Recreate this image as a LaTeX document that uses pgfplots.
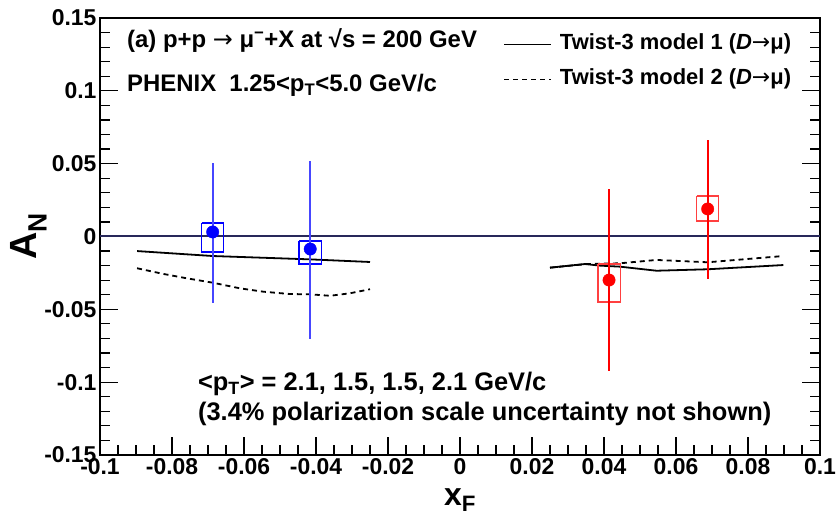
\documentclass[border=0pt]{standalone}
\usepackage{pgfplots}
\pgfplotsset{compat=1.18}
\usepackage{fontspec}
\setmainfont{Liberation Sans}
\newfontfamily\symfont{DejaVu Sans}
\newcommand{\arr}{{\symfont\mdseries →}}

\definecolor{zeroline}{RGB}{40,40,90}
\definecolor{barblue}{RGB}{70,70,255}

\begin{document}
\begin{tikzpicture}
\begin{axis}[
    name=ax,
    scale only axis,
    width=720bp, height=437bp,
    xmin=-0.1, xmax=0.1,
    ymin=-0.15, ymax=0.15,
    xtick={-0.1,-0.08,-0.06,-0.04,-0.02,0,0.02,0.04,0.06,0.08,0.1},
    xticklabels={-0.1,-0.08,-0.06,-0.04,-0.02,0,0.02,0.04,0.06,0.08,0.1},
    ytick={-0.15,-0.1,-0.05,0,0.05,0.1,0.15},
    yticklabels={-0.15,-0.1,-0.05,0,0.05,0.1,0.15},
    minor x tick num=3,
    minor y tick num=4,
    xtick pos=left, ytick pos=both,
    tick align=inside,
    major tick length=18bp, minor tick length=10bp,
    tick style={black, line width=1.2bp},
    axis line style={line width=1.5bp},
    tick label style={font=\fontsize{23}{23}\selectfont\bfseries},
    ylabel={A\textsubscript{N}},
    ylabel style={at={(rel axis cs:-0.099,0.5)}, anchor=center, font=\fontsize{38}{38}\selectfont\bfseries},
    xlabel={x\textsubscript{F}},
    xlabel style={at={(rel axis cs:0.5,-0.103)}, anchor=center, font=\fontsize{32}{32}\selectfont\bfseries},
    unbounded coords=jump,
    legend style={at={(rel axis cs:0.5597,0.8993)}, anchor=west, draw=none, fill=none,
        inner sep=0pt, column sep=8bp, row sep=14bp,
        nodes={inner sep=0pt, text height=16bp, text depth=5bp},
        font=\fontsize{22}{22}\selectfont\bfseries},
    legend cell align=left,
    legend image code/.code={\draw[#1, line width=1.8bp] (0bp,0bp) -- (47bp,0bp);},
    ]

    % theory curves, x_F < 0
    \addplot[black, line width=1.8bp] coordinates {
    (-0.0897,-0.0100) (-0.0687,-0.0134) (-0.0416,-0.0157) (-0.0250,-0.0175)
    };
    \addlegendentry{Twist-3 model 1 (\textit{D}\arr μ)}
    \addplot[black, line width=1.8bp, dash pattern=on 5bp off 4bp] coordinates {
    (-0.0897,-0.0218) (-0.0824,-0.0257) (-0.0759,-0.0287) (-0.0687,-0.0317)
    (-0.0611,-0.0356) (-0.0546,-0.0379) (-0.0472,-0.0395) (-0.0416,-0.0397)
    (-0.0361,-0.0407) (-0.0306,-0.0390) (-0.0250,-0.0362)
    };
    \addlegendentry{Twist-3 model 2 (\textit{D}\arr μ)}

    % theory curves, x_F > 0
    \addplot[black, line width=1.8bp, forget plot] coordinates {
    (0.0250,-0.0214) (0.0347,-0.0189) (0.0389,-0.0200) (0.0444,-0.0207)
    (0.0546,-0.0235) (0.0688,-0.0225) (0.0898,-0.0196)
    };
    \addplot[black, line width=1.8bp, dash pattern=on 5bp off 4bp, forget plot] coordinates {
    (0.0250,-0.0214) (0.0352,-0.0189) (0.0444,-0.0184) (0.0546,-0.0161)
    (0.0688,-0.0177) (0.0898,-0.0134)
    };

    % zero line
    \addplot[zeroline, line width=2bp, forget plot] coordinates {(-0.1,0) (0.1,0)};

    % systematic boxes
    \addplot[blue, line width=1.3bp, forget plot] coordinates {
    (-0.0718,0.0093) (-0.0656,0.0093) (-0.0656,-0.0106) (-0.0718,-0.0106) (-0.0718,0.0093)
    (nan,nan)
    (-0.0447,-0.0031) (-0.0385,-0.0031) (-0.0385,-0.0189) (-0.0447,-0.0189) (-0.0447,-0.0031)
    };
    \addplot[red!75, line width=1.3bp, forget plot] coordinates {
    (0.0383,-0.0189) (0.0445,-0.0189) (0.0445,-0.0450) (0.0383,-0.0450) (0.0383,-0.0189)
    (nan,nan)
    (0.0657,0.0278) (0.0719,0.0278) (0.0719,0.0106) (0.0657,0.0106) (0.0657,0.0278)
    };

    % data points with statistical errors
    \addplot[blue, only marks, mark=*, mark size=6.2bp, forget plot,
        error bars/.cd, y dir=both, y explicit, error mark=none,
        error bar style={barblue, line width=2.2bp}] coordinates {
    (-0.0687,0.0031) += (0,0.0474) -= (0,0.0488)
    (-0.0416,-0.0086) += (0,0.0604) -= (0,0.0618)
    };
    \addplot[red, only marks, mark=*, mark size=6.2bp, forget plot,
        error bars/.cd, y dir=both, y explicit, error mark=none,
        error bar style={red, line width=2.2bp}] coordinates {
    (0.0414,-0.0299) += (0,0.0625) -= (0,0.0624)
    (0.0688,0.0189) += (0,0.0473) -= (0,0.0481)
    };

    \node[anchor=base west, inner sep=0pt, font=\fontsize{24}{24}\selectfont\bfseries]
        at (rel axis cs:0.0375,0.9336) {(a) p+p \arr\ μ\textsuperscript{−}+X at √s = 200 GeV};
    \node[anchor=base west, inner sep=0pt, font=\fontsize{24}{24}\selectfont\bfseries]
        at (rel axis cs:0.0375,0.8307) {PHENIX\ \ 1.25<p\textsubscript{T}<5.0 GeV/c};
    \node[anchor=base west, inner sep=0pt, font=\fontsize{25.5}{25.5}\selectfont\bfseries]
        at (rel axis cs:0.136,0.1465) {<p\textsubscript{T}> = 2.1, 1.5, 1.5, 2.1 GeV/c};
    \node[anchor=base west, inner sep=0pt, font=\fontsize{25.5}{25.5}\selectfont\bfseries]
        at (rel axis cs:0.136,0.0778) {(3.4\% polarization scale uncertainty not shown)};

\end{axis}
\pgfresetboundingbox
\useasboundingbox ([shift={(-100bp,-61bp)}]ax.south west) rectangle ([shift={(18bp,18bp)}]ax.north east);
\end{tikzpicture}
\end{document}
